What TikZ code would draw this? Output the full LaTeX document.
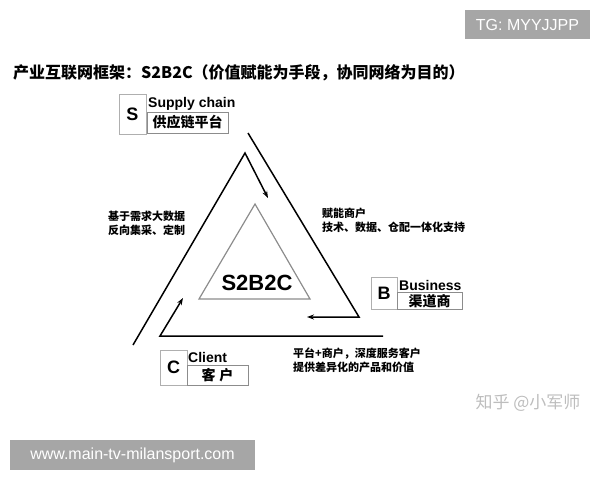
\documentclass[tikz,border=0pt]{standalone}
\usepackage{fontspec}
\setmainfont{Liberation Sans}
\newfontfamily\cjk{Noto Sans CJK SC}
\usepackage{xcolor}
\usetikzlibrary{arrows.meta}

\definecolor{tagGray}{HTML}{A6A6A6}
\definecolor{boxGray}{HTML}{8C8C8C}
\definecolor{markGray}{HTML}{BDBDBD}

\tikzset{
  letterbox/.style={draw=boxGray!70, line width=0.9pt, minimum width=27pt, inner sep=0pt,
    font=\fontsize{18}{18}\selectfont\bfseries},
  namebox/.style={draw=boxGray, line width=0.9pt, inner sep=0pt,
    font=\cjk\fontsize{14}{14}\selectfont\bfseries},
  engl/.style={inner sep=0pt, anchor=base west, font=\fontsize{14}{14}\selectfont\bfseries},
  note/.style={inner sep=0pt, anchor=north west, align=left,
    font=\cjk\fontsize{11}{14}\selectfont\bfseries},
  flow/.style={line width=1.5pt, -{Stealth[length=7pt,width=5pt]}},
  tagbox/.style={fill=tagGray, text=white, inner sep=0pt, font=\fontsize{16}{16}\selectfont}
}

\begin{document}
\begin{tikzpicture}[x=1pt,y=-1pt]
\useasboundingbox (0,0) rectangle (600,480);

% title
\node[inner sep=0pt, anchor=west, font=\cjk\fontsize{16}{16}\selectfont\bfseries] (title) at (13,73)
  {产业互联网框架：S2B2C（价值赋能为手段，协同网络为目的）};

% three roles
\node[letterbox, minimum height=40pt] (S) at (132.5,114) {S};
\node[namebox, minimum width=81pt, minimum height=21pt] (Sname) at (187.5,122.5) {供应链平台};
\node[engl] (Sen) at (148,107) {Supply chain};

\node[letterbox, minimum width=26pt, minimum height=32pt] (B) at (384,293) {B};
\node[namebox, minimum width=65pt, minimum height=17pt] (Bname) at (429.5,301) {渠道商};
\node[engl] (Ben) at (399,290) {Business};

\node[letterbox, minimum height=35pt] (C) at (173.5,367.5) {C};
\node[namebox, minimum width=61pt, minimum height=20pt] (Cname) at (217.5,375) {客\hspace{4pt}户};
\node[engl] (Cen) at (188,362) {Client};

% inner triangle
\coordinate (t1) at (255,204);
\coordinate (t2) at (310,299);
\coordinate (t3) at (199,299);
\draw[boxGray, line width=1.2pt] (t1) -- (t2) -- (t3) -- cycle;
\node[inner sep=0pt, font=\fontsize{22}{22}\selectfont\bfseries] (core) at (257,283) {S2B2C};

% flows
\coordinate (h1a) at (248,133);
\coordinate (h1b) at (359,317);
\coordinate (h1c) at (307,317);
\coordinate (h2a) at (383,336);
\coordinate (h2b) at (160,336);
\coordinate (h2c) at (183,298);
\coordinate (h3a) at (133,345);
\coordinate (h3b) at (245,153);
\coordinate (h3c) at (268,198);
\draw[flow] (h1a) -- (h1b) -- (h1c);
\draw[flow] (h2a) -- (h2b) -- (h2c);
\draw[flow] (h3a) -- (h3b) -- (h3c);

% notes
\node[note] (nl) at (108,211) {基于需求大数据\\反向集采、定制};
\node[note] (nr) at (322,208) {赋能商户\\技术、数据、仓配一体化支持};
\node[note] (nb) at (293,348) {平台+商户，深度服务客户\\提供差异化的产品和价值};

% watermarks
\node[tagbox, minimum width=125pt, minimum height=29pt] (tg) at (527.5,24.5) {TG: MYYJJPP};
\node[tagbox, minimum width=245pt, minimum height=30pt] (web) at (132.5,455) {www.main-tv-milansport.com};
\node[inner sep=0pt, text=markGray, font=\cjk\fontsize{17}{17}\selectfont] (zh) at (528,403) {知乎 @小军师};
\end{tikzpicture}
\end{document}
